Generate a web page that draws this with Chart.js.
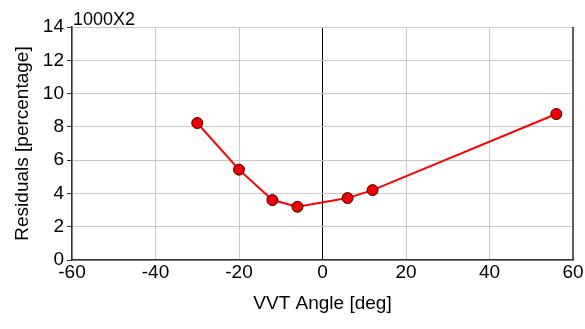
<!DOCTYPE html>
<html><head><meta charset="utf-8">
<script src="https://cdn.jsdelivr.net/npm/chart.js@4"></script>
<style>html,body{margin:0;padding:0;background:#fff}#w{width:585px;height:329px;position:relative}</style>
</head><body><div id="w"><canvas id="c"></canvas></div>
<script>
const angles = [-30, -20, -12, -6, 6, 12, 56];
const residuals = [8.23, 5.43, 3.6, 3.2, 3.72, 4.2, 8.77];
const xTicks = [-60, -40, -20, 0, 20, 40, 60];
const yTicks = [0, 2, 4, 6, 8, 10, 12, 14];
const unitLabel = '1000X2';
const FAM = '"Liberation Sans", Arial, sans-serif';

const frame = {
  id: 'frame',
  afterDraw(chart) {
    const {ctx, chartArea: a} = chart;
    ctx.save();
    ctx.strokeStyle = '#333';
    ctx.lineWidth = 1.5;
    ctx.beginPath();
    ctx.moveTo(a.right, a.top); ctx.lineTo(a.right, a.bottom);
    ctx.stroke();
    ctx.font = '18px ' + FAM;
    ctx.fillStyle = '#000';
    ctx.textBaseline = 'alphabetic';
    ctx.fillText(unitLabel, a.left + 1, a.top - 2);
    ctx.restore();
  }
};

new Chart(document.getElementById('c'), {
  type: 'scatter',
  data: { datasets: [{
    data: angles.map((a, i) => ({x: a, y: residuals[i]})),
    showLine: true, borderColor: '#ff0000', borderWidth: 2,
    pointBackgroundColor: '#ee0000', pointBorderColor: '#400000', pointBorderWidth: 1,
    pointRadius: 5.5
  }]},
  options: {
    responsive: true, maintainAspectRatio: false, animation: false,
    plugins: { legend: {display: false}, tooltip: {enabled: false} },
    layout: { padding: {top: 27, right: 12, left: 0, bottom: 0} },
    scales: {
      x: {
        type: 'linear', min: -60, max: 60,
        afterBuildTicks: s => { s.ticks = xTicks.map(v => ({value: v})); },
        afterFit: s => { s.height = 69; },
        grid: { color: c => c.tick && c.tick.value === 0 ? '#000' : '#c8c8c8', lineWidth: 1, drawTicks: false },
        border: { color: '#333', width: 1.5 },
        ticks: { color: '#000', font: {family: FAM, size: 19}, padding: 1, maxRotation: 0, autoSkip: false },
        title: { display: true, text: 'VVT Angle [deg]', color: '#000', font: {family: FAM, size: 19}, padding: {top: 0, bottom: 14} }
      },
      y: {
        type: 'linear', min: 0, max: 14,
        afterBuildTicks: s => { s.ticks = yTicks.map(v => ({value: v})); },
        afterFit: s => { s.width = 72; },
        grid: { color: '#c8c8c8', lineWidth: 1, tickLength: 5, tickColor: '#333' },
        border: { color: '#333', width: 1.5 },
        ticks: { color: '#000', font: {family: FAM, size: 19}, padding: 3 },
        title: { display: true, text: 'Residuals [percentage]', color: '#000', font: {family: FAM, size: 19}, padding: {top: 11, bottom: 11} }
      }
    }
  },
  plugins: [frame]
});
</script></body></html>
